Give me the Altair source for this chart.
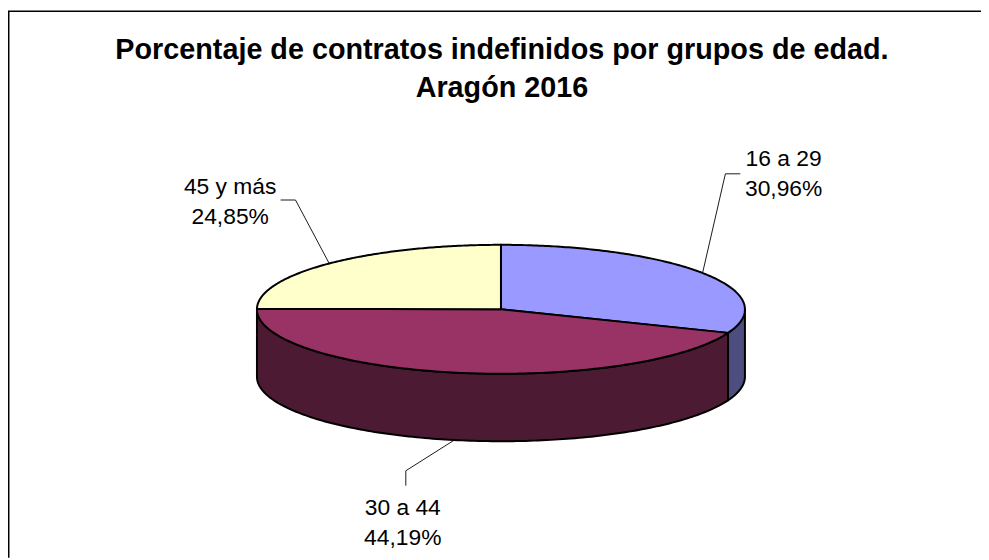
import numpy as np
import pandas as pd
import altair as alt

# --- chart values -----------------------------------------------------------
categories = ["16 a 29", "30 a 44", "45 y más"]
shares = [30.96, 44.19, 24.85]
share_labels = ["30,96%", "44,19%", "24,85%"]
top_colors = ["#9999FF", "#993366", "#FFFFCC"]
side_colors = ["#4D4D80", "#4D1A33", "#808066"]
title_lines = ["Porcentaje de contratos indefinidos por grupos de edad.", "Aragón 2016"]

# --- layout of the drawing (page pixels minus the 8px margin) ----------------
W, H = 981, 552
CX, CY, RX, RY, DEPTH = 497, 301.5, 246, 65, 68
ELBOW_DX = [23, -49, -34]
ELBOW_DY = [-100, 31, -64]
TAIL_DX = [15, 0, -15]
TAIL_DY = [0, 15, 0]
LABEL_X = [782, 398, 224]
LABEL_Y = [157, 509, 185]
LINE_GAP = 30.5


def rim(theta, drop=0.0):
    return CX + RX * np.sin(theta), CY - RY * np.cos(theta) + drop


edges = 2 * np.pi * np.concatenate([[0], np.cumsum(shares)]) / 100.0

tops, walls, leaders, labels = [], [], [], []
for i, cat in enumerate(categories):
    a, b = edges[i], edges[i + 1]
    # upper face of the slice
    th = np.linspace(a, b, 160)
    xs, ys = rim(th)
    xs = np.concatenate([[CX], xs, [CX]])
    ys = np.concatenate([[CY], ys, [CY]])
    for k, (x, y) in enumerate(zip(xs, ys)):
        tops.append(dict(piece=cat, k=k, x=x, y=y, fill=top_colors[i]))
    # visible wall of the slice (front half only)
    lo, hi = max(a, np.pi / 2), min(b, 3 * np.pi / 2)
    if hi > lo:
        th = np.linspace(lo, hi, 160)
        x1, y1 = rim(th)
        x2, y2 = rim(th[::-1], DEPTH)
        xs = np.concatenate([x1, x2, x1[:1]])
        ys = np.concatenate([y1, y2, y1[:1]])
        for k, (x, y) in enumerate(zip(xs, ys)):
            walls.append(dict(piece=cat, k=k, x=x, y=y, fill=side_colors[i]))
    # leader line starts on the rim at the slice's middle angle
    mid = (a + b) / 2
    front = np.pi / 2 < mid < 3 * np.pi / 2
    ax, ay = rim(mid, DEPTH if front else 0)
    ex, ey = ax + ELBOW_DX[i], ay + ELBOW_DY[i]
    pts = [(ax, ay), (ex, ey), (ex + TAIL_DX[i], ey + TAIL_DY[i])]
    for k, (x, y) in enumerate(pts):
        leaders.append(dict(piece=cat, k=k, x=x, y=y))
    labels.append(dict(x=LABEL_X[i], y=LABEL_Y[i], text=cat))
    labels.append(dict(x=LABEL_X[i], y=LABEL_Y[i] + LINE_GAP, text=share_labels[i]))

xs_scale = alt.Scale(domain=[0, W], range=[0, W], nice=False, zero=False)
ys_scale = alt.Scale(domain=[0, H], range=[0, H], nice=False, zero=False)
X = alt.X("x:Q", scale=xs_scale, axis=None)
Y = alt.Y("y:Q", scale=ys_scale, axis=None)


def faces(rows):
    return alt.Chart(pd.DataFrame(rows)).mark_line(
        stroke="#000000", strokeWidth=2, strokeJoin="round", interpolate="linear"
    ).encode(
        x=X, y=Y,
        detail="piece:N",
        order="k:Q",
        fill=alt.Fill("fill:N", scale=None, legend=None),
    )


leader_layer = alt.Chart(pd.DataFrame(leaders)).mark_line(
    stroke="#000000", strokeWidth=0.9
).encode(x=X, y=Y, detail="piece:N", order="k:Q")

label_layer = alt.Chart(pd.DataFrame(labels)).mark_text(
    font="Liberation Sans", fontSize=23, align="center", baseline="alphabetic",
    color="#000000",
).encode(x=X, y=Y, text="text:N")

title_layer = alt.Chart(pd.DataFrame({
    "x": [498, 498], "y": [49, 87], "text": title_lines
})).mark_text(
    font="Liberation Sans", fontSize=29, fontWeight="bold", align="center",
    baseline="alphabetic", color="#000000",
).encode(x=X, y=Y, text="text:N")

frame_top = alt.Chart(pd.DataFrame({"x": [0], "x2": [W], "y": [1]})).mark_rule(
    color="#000000", strokeWidth=1.5
).encode(x=X, x2="x2:Q", y=Y)
frame_left = alt.Chart(pd.DataFrame({"x": [0.75], "y": [1], "y2": [H]})).mark_rule(
    color="#000000", strokeWidth=1.5
).encode(x=X, y=Y, y2="y2:Q")

chart = alt.layer(
    frame_top, frame_left, leader_layer, faces(walls), faces(tops), label_layer, title_layer
).properties(
    width=W, height=H, padding=0, background="#FFFFFF",
    autosize=alt.AutoSizeParams(type="none"),
).configure_view(stroke=None)

chart.save("out.html", embed_options={"renderer": "svg", "actions": False})
